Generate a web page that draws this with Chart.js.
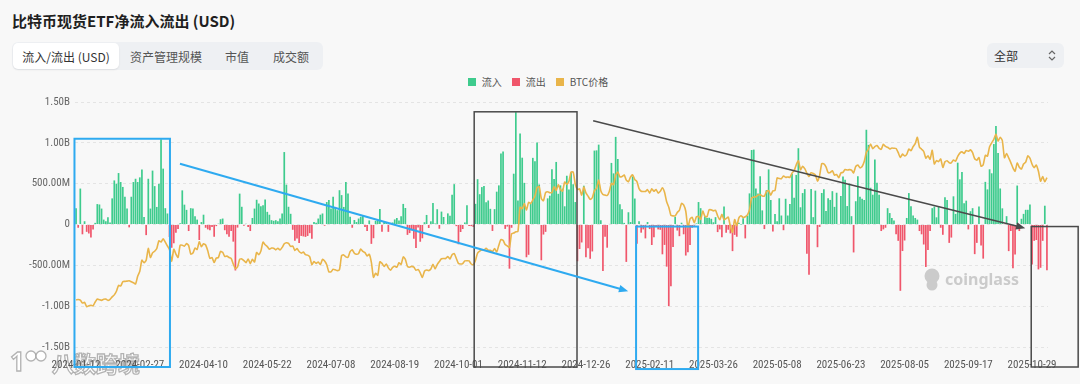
<!DOCTYPE html>
<html lang="zh-CN">
<head>
<meta charset="utf-8">
<title>比特币现货ETF净流入流出 (USD)</title>
<script src="https://cdn.jsdelivr.net/npm/chart.js@4.4.1/dist/chart.umd.min.js"></script>
<style>
  html, body { margin: 0; padding: 0; }
  body {
    width: 1080px; height: 384px; overflow: hidden; position: relative;
    background: #f8f8f8;
    font-family: 'Noto Sans CJK SC', 'Noto Sans', sans-serif;
    color: #222;
  }
  .title { position: absolute; left: 12px; top: 10px; line-height: 22px; font-size: 15px; font-weight: 700; color: #1f1f1f; }
  .tabs {
    position: absolute; left: 12px; top: 42px; width: 311px; height: 28px; box-sizing: border-box;
    padding: 1px; background: #eef0f3; border-radius: 6px; display: flex;
  }
  .tab { height: 26px; display: flex; align-items: center; justify-content: center; font-size: 12px; color: #555; }
  .tab.active { background: #fff; border-radius: 5px; color: #333; box-shadow: 0 1px 2px rgba(0,0,0,0.08); }
  .select {
    position: absolute; left: 987px; top: 43px; width: 77px; height: 25px; box-sizing: border-box;
    background: #eef0f3; border-radius: 6px; font-size: 12px; color: #333; line-height: 25px; padding-left: 7px;
  }
  .select svg { position: absolute; right: 8px; top: 7px; }
  #legend {
    position: absolute; left: 0; top: 75px; width: 1076px; display: flex; justify-content: center;
    font-size: 10px; color: #555; line-height: 14px;
  }
  .item { display: flex; align-items: center; margin: 0 5px; cursor: pointer; }
  .item i { display: inline-block; width: 8px; height: 8px; margin-right: 6px; }
  .item.off { opacity: 0.4; }
  #chart { position: absolute; left: 0; top: 0; }
</style>
</head>
<body>
<div class="title">比特币现货ETF净流入流出 (USD)</div>
<div class="tabs">
  <div class="tab active" style="width:106px">流入/流出 (USD)</div>
  <div class="tab" style="width:94px">资产管理规模</div>
  <div class="tab" style="width:48px">市值</div>
  <div class="tab" style="width:60px">成交额</div>
</div>
<div class="select">全部
  <svg width="8" height="11" viewBox="0 0 8 11"><path d="M1 4 L4 1 L7 4 M1 7 L4 10 L7 7" fill="none" stroke="#666" stroke-width="1.2"/></svg>
</div>
<div id="legend"></div>
<canvas id="chart" width="1080" height="384"></canvas>

<script>
// x axis: one label every 30 trading days
const tickLabels = [
  '2024-01-12', '2024-02-27', '2024-04-10', '2024-05-22', '2024-07-08', '2024-08-19',
  '2024-10-01', '2024-11-12', '2024-12-26', '2025-02-11', '2025-03-26', '2025-05-08',
  '2025-06-23', '2025-08-05', '2025-09-17', '2025-10-29'
];
const tickEvery = 30;

// daily net flow, million USD (one value per trading day)
const flows2024 = [
  200, -40, 440, -120, 40, -90, -110, -160, -60, 20, 250, 245, 195,
  60, 40, 90, 25, 320, 540, 500, 630, 520, 460, 340, 195, -35, 340, 520, 560, 520, 577, 673, 92,
  -130, 560, 195, 660, 470, 215, 500, 1045, 684, 200, 135, -154, -285, -230, -100, -55, 15, 418, 243, 179,
  -80, 200, 195, 100, 60, -190, 30, 120, -40, -60, -70, -30, -150, -20, 10, 65, 73, -70, -120, -150, -80, -210,
  -563, -38, 378, 217, -15, 10, -30, -80, 80, 195, 303, 257, 222, 237, 305, 155, 120, 53, 45, 53, 40, 73,
  135, 887, 488, 217, 131, -65, -200, -170, -226, -140, -146, -152, -140, -106, -175, 31, 22, 73, 120,
  135, -15, 275, 300, 195, 340, 215, 175, 420, 360, 215, 520, 380, 95, -40, 55, 30, 73, 95, 115, -30, -80,
  50, -237, -168, 45, 50, 190, -90, 40, 30, -90, 20, 25, 62, 80, 50, 100, 252, 202, -127, -105, -71, -175,
  -288, -37, -211, -169, 28, 117, -43, 39, 263, 12, 187, -52, 158, 92, 4, 136, 106, 365, 494, -20,
  -242, -92, -55, 25, 235, -18, -20, -30, 253, 555, 371, 458, 470, 273, 294, 192, -79, 188, 402, 479, 870, 893, -54,
  -25, -541, -40, 622, 1376, 295, 1114, 818, 510, -401, -371, 255, 816, 773, 1004, 490, -438, -123, -90, 320,
  353, 676, 556, 766, 376, 479, 439, 223, 597, 428, 637, 493, 275, -450, -300, -220, 475, -400, -290, -420, -330
];
const flows2025 = [
  905, 908, 978, 52, -568, -149, -284, 7, 754, 626, 1073, 802, 248, 188, 20, -458, 150, 30, 588, 318,
  -235, 40, -100, -60, -170, 30, -56, -251, -156, -20, -60, -65, -365, -250, -516, -1000, -755, -276, 94,
  -74, -143, 22, -120, -380, -340, -250, -40, -15, 13, 275, 200, 11, 100, 80, 84, 70, 27, 90, -93, -60,
  -157, 220, -100, -64, -109, -326, -127, -150, 20, 1, 76, -170, 107, 381, 912, 917, 442, 380, 591, 173, -56,
  422, 675, 300, -86, 130, 40, 321, 110, -70, 315, 110, 250, 620, 329, 607, 934, 211, 385, 433, -358, -616,
  435, 90, 415, -278, -30, 386, 431, 165, 322, 301, 408, 216, 389, 6, 350, 588, 548, 226, 501, 102,
  -342, 285, 590, 340, 315, 300, 1160, 975, 450, 365, 795, 510, 365, -80, -60, -40, 200, 140, 80, 50, -120, -200,
  -812, -325, -196, 80, 385, 225, 110, 80, 60, -80, -120, -245, -520, -311, -80, 200, 219, 88, 225, -40, -126,
  333, 301, -225, -160, 345, 130, 757, 553, 642, 260, 292, -60, 163, 200, -363, -225, 220, -258, -418, 522, 430,
  676, 627, 985, 1205, 875, 441, 198, -4, 102, -326, -80, -536, -367, 477, -80, 70, 130, 180, 180, 245, -490, -200, -190,
  -550, -530, -200, 230, -560
];

// BTC close, thousand USD (same trading days)
const btc2024 = [
  42.8, 43.0, 42.7, 41.3, 41.6, 39.5, 39.9, 40.1, 39.9, 41.8, 43.3, 42.9, 42.6,
  43.1, 43.2, 42.6, 43.1, 44.3, 45.3, 47.1, 50.0, 49.7, 51.8, 52.0, 52.1, 52.3, 51.8, 51.3, 50.7, 54.5, 57.0, 62.5, 61.2,
  62.4, 68.3, 63.8, 66.1, 66.9, 68.3, 72.1, 71.5, 73.1, 71.4, 69.5, 67.6, 61.9, 67.9, 65.5, 63.8, 69.9, 69.9, 69.4, 70.7,
  69.7, 65.5, 66.0, 68.5, 67.8, 71.6, 69.1, 70.6, 70.0, 67.1, 63.4, 63.8, 61.3, 63.5, 63.8, 66.8, 66.4, 64.3, 64.5, 63.8, 63.4, 60.6,
  58.3, 59.1, 62.9, 63.1, 62.3, 61.2, 63.1, 60.8, 62.9, 61.6, 66.3, 65.2, 67.0, 71.4, 70.1, 69.2, 67.9, 68.5, 68.4, 67.6, 68.4, 67.5,
  68.8, 70.6, 71.1, 70.8, 69.3, 69.5, 67.3, 68.2, 66.8, 66.0, 66.5, 65.2, 65.0, 64.1, 60.3, 61.8, 60.9, 61.6, 60.3,
  62.9, 62.1, 60.2, 56.7, 56.7, 58.0, 57.7, 57.3, 57.9, 64.8, 65.1, 64.1, 63.9, 66.7, 67.6, 65.9, 65.4, 65.8, 68.0, 66.8, 66.2, 64.6,
  65.4, 61.4, 54.0, 56.0, 55.0, 61.7, 60.9, 59.4, 60.6, 58.7, 57.5, 58.9, 59.5, 59.0, 61.2, 60.4, 64.1, 62.9, 59.4, 59.0, 59.4, 59.0,
  57.5, 57.9, 56.2, 53.9, 57.0, 57.6, 57.3, 58.1, 60.5, 58.2, 60.3, 61.8, 63.2, 63.3, 63.3, 64.3, 63.1, 65.2, 65.8, 63.3,
  60.8, 60.6, 60.8, 62.1, 62.2, 62.1, 60.6, 60.3, 62.4, 66.0, 67.0, 67.6, 67.4, 68.4, 67.4, 67.4, 66.7, 68.2, 66.6, 69.9, 72.7, 72.3, 70.2,
  69.5, 68.8, 75.6, 75.9, 76.5, 76.7, 88.7, 88.0, 90.5, 87.3, 91.1, 90.5, 92.3, 94.3, 98.4, 98.9, 93.0, 91.9, 95.9, 96.4,
  95.9, 96.0, 98.8, 97.0, 99.9, 97.4, 96.7, 101.2, 100.0, 101.5, 106.1, 106.1, 100.0, 97.5, 97.8, 94.7, 98.7, 95.8, 94.2, 92.6, 93.4
];
const btc2025 = [
  96.9, 98.1, 102.1, 96.9, 95.0, 94.7, 94.5, 96.5, 100.5, 99.9, 104.5, 106.1, 103.7, 103.9, 104.7, 102.1, 101.3, 103.7, 104.7, 102.4,
  101.4, 97.9, 96.6, 96.5, 96.5, 97.4, 95.7, 97.8, 96.6, 97.5, 95.7, 96.6, 98.3, 96.1, 91.4, 88.7, 84.7, 84.4, 84.4,
  86.1, 87.2, 90.6, 89.9, 86.7, 78.6, 82.9, 83.7, 81.0, 84.0, 84.1, 82.7, 86.8, 84.2, 84.0, 87.5, 87.4, 86.9, 87.2, 84.4, 82.5,
  85.2, 82.5, 83.1, 83.8, 79.1, 76.3, 82.6, 79.6, 83.4, 84.5, 83.6, 84.0, 84.9, 87.5, 93.4, 93.7, 93.9, 94.7, 95.0, 94.3, 94.2,
  96.5, 96.9, 94.7, 96.8, 97.0, 103.2, 102.9, 102.8, 104.2, 103.5, 103.7, 103.5, 105.6, 106.8, 109.7, 111.7, 107.3, 109.0, 107.8, 105.6, 103.9,
  105.8, 105.4, 104.7, 101.6, 104.4, 110.3, 110.2, 108.7, 105.9, 105.9, 106.8, 104.6, 104.9, 103.3, 105.6, 106.0, 107.4, 107.1, 107.3, 107.1,
  105.7, 108.9, 109.6, 108.2, 108.9, 111.3, 115.9, 117.5, 120.0, 117.7, 118.7, 119.3, 117.9, 117.4, 119.9, 118.8, 118.4, 117.6, 118.0, 117.9, 117.8, 115.7,
  113.3, 115.0, 114.1, 114.9, 117.5, 116.7, 118.7, 120.2, 123.3, 118.4, 117.4, 116.3, 113.0, 114.2, 112.5, 116.9, 110.1, 111.8, 111.3, 112.6, 108.4,
  111.2, 111.7, 110.7, 110.7, 112.1, 111.5, 113.9, 115.5, 116.1, 115.3, 116.8, 116.4, 117.1, 115.7, 112.7, 112.0, 113.3, 109.0, 109.7, 114.4, 114.0,
  118.6, 120.6, 122.3, 124.8, 121.5, 123.3, 121.7, 113.2, 115.3, 113.1, 110.8, 108.2, 106.5, 110.6, 108.5, 107.6, 110.1, 111.0, 114.1, 113.0, 110.0, 108.3, 109.6,
  106.5, 101.6, 103.9, 101.3, 103.4
];

const COLORS = { inflow: '#3ecb8d', outflow: '#f0566b', btc: '#e9b54a', blue: '#2eaaf0', dark: '#4a4a4a' };
const NARROW = "'Roboto Condensed', 'Liberation Sans Narrow', Roboto, sans-serif";
const Y_STEP = 500;

const flows = flows2024.concat(flows2025);
const btcPrice = btc2024.concat(btc2025);
const days = flows.map((_, i) => i);

// highlight boxes and arrows drawn over the chart, given in axis units (day index, $M)
const boxes = [
  { from: -0.75, to: 44.2, top: 1050, bottom: -1745, color: COLORS.blue, width: 2 },
  { from: 187.4, to: 235.8, top: 1380, bottom: -1745, color: COLORS.dark, width: 1.5 },
  { from: 263.6, to: 292.8, top: -25, bottom: -1770, color: COLORS.blue, width: 2 },
  { from: 449.6, to: 471.7, top: -25, bottom: -1745, color: COLORS.dark, width: 1.5 }
];
const arrows = [
  { x1: 48.9, y1: 744, x2: 259.9, y2: -817, color: COLORS.blue, width: 2 },
  { x1: 243.4, y1: 1270, x2: 446.8, y2: -45, color: COLORS.dark, width: 1.6 }
];

function fmtUsd(v) {
  if (v === 0) return '0';
  return Math.abs(v) >= 1000 ? (v / 1000).toFixed(2) + 'B' : v.toFixed(2) + 'M';
}

function drawArrow(ctx, x1, y1, x2, y2, color, w) {
  const ang = Math.atan2(y2 - y1, x2 - x1);
  const head = 10;
  ctx.strokeStyle = color;
  ctx.lineWidth = w;
  ctx.beginPath();
  ctx.moveTo(x1, y1);
  ctx.lineTo(x2 - Math.cos(ang) * head * 0.7, y2 - Math.sin(ang) * head * 0.7);
  ctx.stroke();
  ctx.fillStyle = color;
  ctx.beginPath();
  ctx.moveTo(x2, y2);
  ctx.lineTo(x2 - head * Math.cos(ang - 0.38), y2 - head * Math.sin(ang - 0.38));
  ctx.lineTo(x2 - head * Math.cos(ang + 0.38), y2 - head * Math.sin(ang + 0.38));
  ctx.closePath();
  ctx.fill();
}

// watermarks go under the axes and bars so tick labels stay readable
const watermarkPlugin = {
  id: 'watermark',
  beforeDraw(chart) {
    const ctx = chart.ctx;
    ctx.save();
    ctx.textAlign = 'left';
    ctx.textBaseline = 'middle';
    // coinglass mark
    ctx.fillStyle = '#cbcbcb';
    ctx.beginPath();
    ctx.arc(932, 276, 7.5, 0, Math.PI * 2);
    ctx.fill();
    ctx.beginPath();
    ctx.arc(932, 285, 5.5, 0, Math.PI * 2);
    ctx.fill();
    ctx.font = "bold 16px 'Noto Sans', sans-serif";
    ctx.fillText('coinglass', 945, 280);
    // bottom-left mark
    ctx.lineWidth = 1.3;
    ctx.strokeStyle = 'rgba(130,130,130,0.6)';
    ctx.fillStyle = 'rgba(255,255,255,0.9)';
    ctx.font = "bold 22px 'Noto Sans CJK SC', sans-serif";
    ctx.fillText('八数跨境', 52, 364);
    ctx.strokeText('八数跨境', 52, 364);
    ctx.font = "bold 26px 'Noto Sans', sans-serif";
    ctx.fillText('1', 10, 364);
    ctx.strokeText('1', 10, 364);
    ctx.beginPath();
    ctx.arc(31, 356, 5, 0, Math.PI * 2);
    ctx.fill();
    ctx.stroke();
    ctx.beginPath();
    ctx.arc(41, 356, 5, 0, Math.PI * 2);
    ctx.fill();
    ctx.stroke();
    ctx.restore();
  }
};

// y labels drawn from the y scale after everything else, so the bottom one is never lost
const yLabelsPlugin = {
  id: 'yLabels',
  afterDraw(chart) {
    const ctx = chart.ctx;
    const y = chart.scales.y;
    ctx.save();
    ctx.font = '11px ' + NARROW;
    ctx.fillStyle = '#666';
    ctx.textAlign = 'right';
    ctx.textBaseline = 'middle';
    for (let v = y.min; v <= y.max + 1e-6; v += Y_STEP) {
      ctx.fillText(fmtUsd(v), y.right - 5, y.getPixelForValue(v));
    }
    ctx.restore();
  }
};

const marksPlugin = {
  id: 'marks',
  afterDraw(chart) {
    const ctx = chart.ctx;
    const x = chart.scales.x, y = chart.scales.y;
    ctx.save();
    boxes.forEach(b => {
      const l = x.getPixelForValue(b.from), r = x.getPixelForValue(b.to);
      const t = y.getPixelForValue(b.top), btm = y.getPixelForValue(b.bottom);
      ctx.strokeStyle = b.color;
      ctx.lineWidth = b.width;
      ctx.strokeRect(l, t, r - l, btm - t);
    });
    arrows.forEach(a => {
      drawArrow(ctx, x.getPixelForValue(a.x1), y.getPixelForValue(a.y1),
        x.getPixelForValue(a.x2), y.getPixelForValue(a.y2), a.color, a.width);
    });
    ctx.restore();
  }
};

Chart.defaults.font.family = NARROW;

const chart = new Chart(document.getElementById('chart'), {
  type: 'bar',
  data: {
    labels: days,
    datasets: [
      {
        label: '流入',
        data: flows.map(v => (v > 0 ? v : null)),
        backgroundColor: COLORS.inflow,
        grouped: false,
        barPercentage: 0.8,
        categoryPercentage: 1,
        yAxisID: 'y',
        order: 2,
      },
      {
        label: '流出',
        data: flows.map(v => (v < 0 ? v : null)),
        backgroundColor: COLORS.outflow,
        grouped: false,
        barPercentage: 0.8,
        categoryPercentage: 1,
        yAxisID: 'y',
        order: 2,
      },
      {
        type: 'line',
        label: 'BTC价格',
        data: btcPrice,
        borderColor: COLORS.btc,
        backgroundColor: COLORS.btc,
        borderWidth: 1.6,
        pointRadius: 0,
        tension: 0.2,
        yAxisID: 'y1',
        order: 0,
      },
    ],
  },
  options: {
    responsive: false,
    animation: false,
    layout: { padding: { top: 102, right: 32, bottom: 0, left: 0 } },
    plugins: {
      legend: { display: false },
      tooltip: {
        mode: 'index',
        intersect: false,
        callbacks: {
          title: items => 'Day ' + items[0].dataIndex,
        },
      },
    },
    scales: {
      x: {
        type: 'category',
        offset: true,
        grid: { display: false },
        border: { display: false },
        ticks: {
          autoSkip: false,
          maxRotation: 0,
          minRotation: 0,
          padding: 4,
          color: '#555',
          font: { size: 11 },
          callback: (v, i) => (i % tickEvery === 0 ? tickLabels[i / tickEvery] : null),
        },
        afterFit: s => { s.height = 37; },
      },
      y: {
        min: -1500,
        max: 1500,
        ticks: { stepSize: Y_STEP, display: false },
        grid: { color: '#e4e4e4', drawTicks: false },
        border: { display: false, dash: [3, 3] },
        afterFit: s => { s.width = 75; },
      },
      y1: { display: false, min: 19.5, max: 140.8 },
    },
  },
  plugins: [watermarkPlugin, yLabelsPlugin, marksPlugin],
});

// HTML legend built from the datasets
const legendEl = document.getElementById('legend');
chart.data.datasets.forEach((ds, i) => {
  const item = document.createElement('div');
  item.className = 'item';
  item.innerHTML = `<i style="background:${ds.type === 'line' ? ds.borderColor : ds.backgroundColor}"></i>${ds.label}`;
  item.addEventListener('click', () => {
    chart.setDatasetVisibility(i, !chart.isDatasetVisible(i));
    item.classList.toggle('off');
    chart.update();
  });
  legendEl.appendChild(item);
});
</script>
</body>
</html>
